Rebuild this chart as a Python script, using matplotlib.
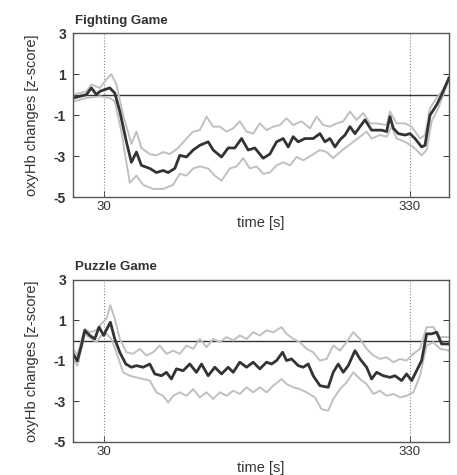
import matplotlib
matplotlib.use("Agg")
import matplotlib.pyplot as plt

plt.rcParams['font.family'] = ['Liberation Sans', 'DejaVu Sans']

# ── Fighting game: group mean and +/- band ───────────────────────────────────
fight_t = [0, 6.5, 13, 17.9, 22.8, 26.1, 31, 35.9, 40.8, 45.7, 52.2, 57.1, 62,
           66.9, 75.1, 81.6, 88.2, 93.1, 99.6, 104.5, 111, 117.6, 124.1, 132.3,
           137.2, 145.4, 151.9, 158.4, 165, 171.5, 178, 186.2, 192.7, 199.3,
           205.8, 210.7, 215.6, 220.5, 227.1, 235.2, 241.8, 246.7, 251.6, 256.5,
           261.4, 266.3, 271.2, 276.1, 281, 285.9, 292.4, 297.3, 302.2, 307.1,
           310.4, 313.7, 318.6, 325.1, 330, 334.9, 341.4, 344.7, 349.6, 356.1,
           361, 368.2]
fight_mean = [-0.16, -0.08, 0, 0.33, 0, 0.16, 0.25, 0.33, 0.08, -0.8, -2.3,
              -3.3, -2.8, -3.45, -3.6, -3.8, -3.7, -3.8, -3.6, -2.96, -3.04,
              -2.7, -2.47, -2.3, -2.7, -3.04, -2.6, -2.6, -2.14, -2.7, -2.6,
              -3.1, -2.9, -2.3, -2.14, -2.55, -2.05, -2.3, -2.14, -2.14, -1.9,
              -2.3, -2.14, -2.55, -2.2, -1.97, -1.56, -1.9, -1.56, -1.23, -1.73,
              -1.73, -1.73, -1.8, -1.07, -1.64, -1.9, -1.97, -1.9, -2.14, -2.55,
              -2.47, -1.0, -0.5, 0, 0.82]

fight_up_t = [0, 13, 17.9, 26.1, 32.6, 37.5, 42.4, 49, 57.1, 62, 66.9, 75.1,
              81.6, 88.2, 94.7, 102.9, 111, 117.6, 124.1, 130.7, 137.2, 143.7,
              150.3, 156.8, 163.3, 169.9, 176.4, 182.9, 189.5, 196, 202.5,
              209.1, 215.6, 223.8, 232, 238.5, 245, 251.6, 258.1, 264.6, 271.2,
              277.7, 284.2, 290.8, 297.3, 307.1, 310.4, 316.9, 325.1, 331.6,
              339.8, 344.7, 349.6, 356.1, 362.7, 368.2]
fight_up = [0, 0.16, 0.5, 0.33, 0.74, 1.0, 0.5, -1.0, -2.4, -1.8, -2.6, -2.9,
            -2.96, -2.8, -2.9, -2.6, -2.14, -1.8, -1.73, -1.07, -1.56, -1.56,
            -1.8, -1.64, -1.3, -1.8, -1.9, -1.4, -1.73, -1.56, -1.48, -1.15,
            -1.48, -1.3, -1.64, -1.07, -1.48, -1.56, -1.4, -1.3, -0.82, -1.23,
            -0.9, -1.4, -1.4, -1.48, -0.82, -1.4, -1.4, -1.56, -2.14, -1.97,
            -0.66, -0.16, 0.25, 0.82]

fight_lo_t = [0, 13, 26.1, 35.9, 40.8, 47.3, 55.5, 62, 68.6, 78.4, 88.2, 98,
              104.5, 111, 117.6, 124.1, 132.3, 138.8, 145.4, 153.5, 160.1,
              166.6, 173.1, 179.7, 186.2, 192.7, 199.3, 205.8, 212.4, 218.9,
              225.4, 233.6, 241.8, 248.3, 254.8, 261.4, 267.9, 274.4, 281,
              287.5, 292.4, 300.6, 307.1, 312, 316.9, 325.1, 333.2, 341.4,
              346.3, 351.2, 357.7, 368.2]
fight_lo = [-0.33, -0.16, -0.08, -0.16, -0.33, -1.8, -4.3, -3.95, -4.4, -4.6,
            -4.6, -4.4, -3.86, -3.95, -3.6, -3.5, -3.6, -3.95, -4.2, -3.6,
            -3.5, -3.1, -3.6, -3.5, -3.86, -3.8, -3.45, -3.3, -3.45, -3.04,
            -3.2, -2.96, -2.7, -2.8, -3.1, -2.8, -2.55, -2.3, -2.05, -1.8,
            -2.14, -1.97, -2.05, -1.56, -2.14, -2.3, -2.55, -2.96, -2.7, -1.3,
            -0.66, 0.74]

# ── Puzzle game ──────────────────────────────────────────────────────────────
puz_t = [0, 4.1, 8.1, 11.4, 16.3, 21.2, 25.4, 30, 33.3, 36.5, 40.8, 45.7,
         51.6, 57.1, 62, 68.6, 75.1, 80, 86.5, 91.4, 96.3, 101.2, 107.8, 114.3,
         120.8, 125.8, 132.3, 138.8, 145.4, 151.9, 156.8, 163.3, 169.9, 176.4,
         182.9, 189.5, 194.4, 199.3, 205.2, 209.1, 214, 220.5, 225.4, 230.3,
         235.2, 241.8, 249.9, 254.8, 259.7, 264.6, 269.5, 276.1, 281, 287.5,
         292.4, 297.3, 303.9, 310.4, 315.3, 321.8, 326.7, 331.6, 336.5, 341.4,
         346.3, 351.2, 356.1, 361, 368.2]
puz_mean = [-0.66, -1.0, -0.25, 0.5, 0.25, 0.08, 0.66, 0.25, 0.6, 0.9, 0.08,
            -0.58, -1.16, -1.32, -1.24, -1.32, -1.16, -1.65, -1.74, -1.57,
            -1.9, -1.4, -1.49, -1.16, -1.57, -1.16, -1.74, -1.32, -1.65, -1.32,
            -1.57, -1.07, -1.32, -1.07, -1.4, -1.07, -1.16, -0.99, -0.58,
            -0.99, -0.91, -1.24, -1.32, -1.16, -1.74, -2.23, -2.31, -1.57,
            -1.16, -1.57, -1.24, -0.5, -0.91, -1.32, -1.9, -1.57, -1.74, -1.82,
            -1.74, -1.98, -1.65, -1.98, -1.49, -0.99, 0.33, 0.33, 0.41, -0.17,
            -0.17]

puz_band_t = [0, 4.1, 8.1, 11.4, 16.3, 22.8, 27.7, 32.6, 36.5, 40.8, 45.7,
              52.2, 58.8, 65.3, 71.8, 78.4, 84.9, 91.4, 98, 104.5, 111, 117.6,
              124.1, 130.7, 137.2, 143.7, 150.3, 156.8, 163.3, 169.9, 176.4,
              182.9, 189.5, 196, 204.2, 209.1, 215.6, 222.2, 228.7, 235.2,
              241.8, 248.3, 254.8, 261.4, 267.9, 274.4, 281, 287.5, 294.1,
              300.6, 307.1, 313.7, 320.2, 326.7, 333.3, 339.8, 346.3, 352.9,
              359.4, 368.2]
puz_up = [-0.41, -0.74, 0, 0.58, 0.41, 0.5, 0.83, 1.07, 1.74, 1.07, 0.08,
          -0.58, -0.66, -0.41, -0.74, -0.58, -0.25, -0.66, -0.5, -0.66, -0.25,
          -0.41, 0.08, -0.33, 0.08, -0.08, 0.17, 0, 0.25, 0.08, 0.41, 0.25,
          0.5, 0.41, 0.66, 0.33, 0.08, -0.08, -0.41, -0.58, -0.99, -0.91,
          -0.25, -0.5, -0.08, 0.41, 0.08, -0.41, -0.74, -0.91, -0.83, -1.07,
          -0.91, -0.99, -0.66, -0.41, 0.66, 0.66, 0.17, 0.17]

puz_lo_t = [0, 4.1, 8.1, 11.4, 17.9, 22.8, 27.7, 32.6, 37.5, 42.4, 49, 55.5,
            62, 68.6, 75.1, 81.6, 88.2, 93.1, 98, 104.5, 111, 117.6, 124.1,
            130.7, 137.2, 143.7, 150.3, 156.8, 163.3, 169.9, 176.4, 182.9,
            189.5, 196, 204.2, 209.1, 215.6, 222.2, 228.7, 236.9, 243.4, 249.9,
            254.8, 261.4, 267.9, 274.4, 281, 287.5, 294.1, 300.6, 307.1, 313.7,
            320.2, 326.7, 333.3, 339.8, 346.3, 352.9, 359.4, 368.2]
puz_lo = [-0.91, -1.24, -0.41, 0.33, 0.08, -0.08, 0.25, 0.33, 0.08, -0.58,
          -1.57, -1.74, -1.82, -1.9, -1.98, -2.56, -2.73, -3.06, -2.73, -2.56,
          -2.73, -2.4, -2.81, -2.56, -2.89, -2.56, -2.73, -2.48, -2.64, -2.31,
          -2.56, -2.31, -2.56, -2.23, -1.9, -2.15, -2.31, -2.4, -2.56, -2.81,
          -3.39, -3.47, -2.89, -2.4, -2.07, -1.57, -1.9, -2.15, -2.64, -2.48,
          -2.73, -2.64, -2.81, -2.73, -2.56, -1.74, -0.25, -0.08, -0.41, -0.5]

TASK_ON, TASK_OFF = 30, 330
X_MAX = 368
Y_TICKS = [3, 1, -1, -3, -5]

panels = [
    ("Fighting Game", (fight_t, fight_mean), (fight_up_t, fight_up), (fight_lo_t, fight_lo)),
    ("Puzzle Game", (puz_t, puz_mean), (puz_band_t, puz_up), (puz_lo_t, puz_lo)),
]

fig = plt.figure(figsize=(4.57, 4.75), dpi=100)
axes = [fig.add_axes([0.160, 0.585, 0.822, 0.345]),
        fig.add_axes([0.160, 0.070, 0.822, 0.341])]

for ax, (title, mean, up, lo) in zip(axes, panels):
    ax.axvline(TASK_ON, color='#888888', lw=0.8, ls=':')
    ax.axvline(TASK_OFF, color='#888888', lw=0.8, ls=':')
    ax.axhline(0, color='#333333', lw=1.0)
    ax.plot(*up, color='#c0c0c0', lw=1.4)
    ax.plot(*lo, color='#c0c0c0', lw=1.4)
    ax.plot(*mean, color='#333333', lw=2.0)

    ax.set_xlim(0, X_MAX)
    ax.set_ylim(-5, 3)
    ax.set_xticks([TASK_ON, TASK_OFF])
    ax.set_yticks(Y_TICKS)
    ax.set_yticklabels([str(v) for v in Y_TICKS], fontsize=10, fontweight='bold')
    ax.tick_params(direction='in', length=4, width=0.7, right=True,
                   colors='#333333', labelcolor='#333333')
    ax.tick_params(axis='x', labelsize=9.5, pad=3)
    ax.tick_params(axis='y', pad=5)
    for s in ax.spines.values():
        s.set_color('#555555')
        s.set_linewidth(1.0)

    ax.set_xlabel('time [s]', fontsize=10.5, labelpad=2, color='#333333')
    ax.set_ylabel('oxyHb changes [z-score]', fontsize=10.5, labelpad=11,
                  color='#333333')
    ax.text(0.005, 1.04, title, transform=ax.transAxes, fontsize=9.5,
            fontweight='bold', color='#333333', ha='left', va='bottom')

fig.savefig('out.png', dpi=100)
